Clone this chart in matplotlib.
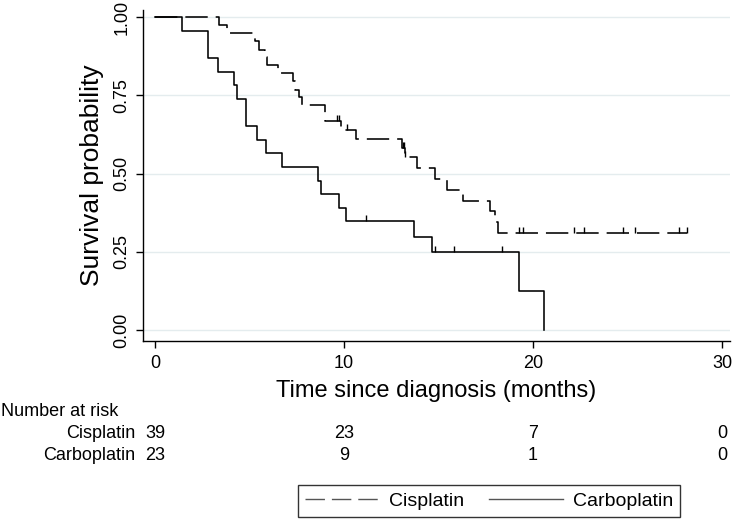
import numpy as np
import matplotlib
matplotlib.use("Agg")
import matplotlib.pyplot as plt
import matplotlib.transforms as mtransforms

plt.rcParams['font.family'] = ['Liberation Sans', 'DejaVu Sans']

# Kaplan-Meier steps (time in months, survival after the step)
cis_t = [0, 3.39, 3.83, 5.3, 5.5, 5.82, 5.94, 6.49, 7.32, 7.42, 7.62, 7.79, 8.99,
         9.82, 10.63, 13.05, 13.2, 13.88, 14.81, 15.43, 16.3, 17.72, 17.99, 18.16]
cis_s = [1.0, 0.974, 0.949, 0.923, 0.897, 0.872, 0.846, 0.821, 0.795, 0.769, 0.744,
         0.718, 0.667, 0.639, 0.610, 0.581, 0.552, 0.517, 0.483, 0.448, 0.414,
         0.380, 0.345, 0.310]
cis_cens = [9.61, 9.74, 10.15, 13.14, 13.18, 13.22, 19.28, 19.45, 22.19, 22.7,
            24.78, 25.4, 27.74, 28.17]
cis_end = 28.17

carbo_t = [0, 1.45, 2.8, 3.35, 4.2, 4.35, 4.8, 5.38, 5.86, 6.7, 8.6, 8.77, 9.75,
           10.09, 13.69, 14.67, 19.26, 20.58]
carbo_s = [1.0, 0.957, 0.870, 0.826, 0.783, 0.739, 0.652, 0.609, 0.565, 0.522,
           0.478, 0.435, 0.391, 0.348, 0.298, 0.248, 0.124, 0.0]
carbo_cens = [11.15, 14.83, 15.82, 18.34]

# number at risk table
risk_times = [0, 10, 20, 30]
risk_groups = ["Cisplatin", "Carboplatin"]
risk_cis = [39, 23, 7, 0]
risk_carbo = [23, 9, 1, 0]

xticks = [0, 10, 20, 30]
yticks = [0, 0.25, 0.5, 0.75, 1.0]


def km_at(times, surv, t):
    i = np.searchsorted(times, t, side="right") - 1
    return np.asarray(surv)[i]


W, H = 735, 519
fig = plt.figure(figsize=(W / 100, H / 100), dpi=100)
ax = fig.add_axes([143 / W, 1 - 341 / H, (730 - 143) / W, (341 - 10) / H])

ax.set_xlim(-0.635, 30.42)
ax.set_ylim(-0.0352, 1.0234)

for y in yticks:
    ax.axhline(y, color="#e4ecee", lw=1.0, zorder=0)

# curves
ct = list(cis_t) + [cis_end]
cs = list(cis_s) + [cis_s[-1]]
ax.step(ct, cs, where="post", color="black", lw=1.15,
        linestyle=(0, (14, 5)), label="Cisplatin")
ax.step(carbo_t, carbo_s, where="post", color="black", lw=1.15,
        label="Carboplatin")

# censoring ticks
cy = km_at(cis_t, cis_s, cis_cens)
ax.vlines(cis_cens, cy, cy + 0.02, color="black", lw=1.0)
ky = km_at(carbo_t, carbo_s, carbo_cens)
ax.vlines(carbo_cens, ky, ky + 0.02, color="black", lw=1.0)

ax.spines["top"].set_visible(False)
ax.spines["right"].set_visible(False)
ax.spines["left"].set_linewidth(1.0)
ax.spines["bottom"].set_linewidth(1.0)

ax.set_xticks(xticks)
ax.set_yticks(yticks)
ax.set_yticklabels(["%.2f" % v for v in yticks], rotation=90, va="center")
ax.tick_params(axis="both", direction="out", length=5, width=1.0,
               labelsize=13, colors="black")
ax.tick_params(axis="x", pad=5)
ax.tick_params(axis="y", pad=4)

ax.set_xlabel("Time since diagnosis (months)", fontsize=17, labelpad=6)
ax.set_ylabel("Survival probability", fontsize=19, labelpad=7)

# number at risk
trans = mtransforms.blended_transform_factory(ax.transData, fig.transFigure)
fig.text(1 / W, 1 - 412 / H, "Number at risk", fontsize=13, va="center", ha="left")
rows_y = [434, 455]
for name, vals, yp in zip(risk_groups, [risk_cis, risk_carbo], rows_y):
    fig.text(135 / W, 1 - yp / H, name, fontsize=13, va="center", ha="right")
    for t, v in zip(risk_times, vals):
        ax.text(t, 1 - yp / H, str(v), transform=trans, fontsize=13,
                va="center", ha="center", clip_on=False)

leg = ax.legend(loc="center", bbox_to_anchor=(489 / W, 1 - 501 / H),
                bbox_transform=fig.transFigure, ncol=2, fontsize=14,
                frameon=True, fancybox=False, edgecolor="black",
                handlelength=3.8, handletextpad=0.5, columnspacing=1.3,
                borderpad=0.35, borderaxespad=0)
leg.get_frame().set_linewidth(1.0)
for line in leg.get_lines():
    line.set_color("#555555")
    line.set_linewidth(1.0)

fig.savefig("out.png", dpi=100)
